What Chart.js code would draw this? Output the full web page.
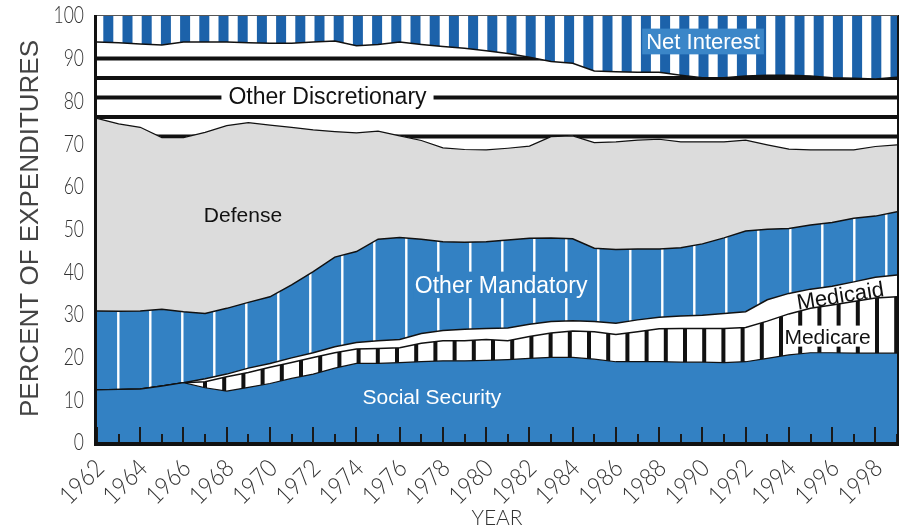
<!DOCTYPE html>
<html>
<head>
<meta charset="utf-8">
<script src="https://cdn.jsdelivr.net/npm/chart.js@4.4.1/dist/chart.umd.min.js"></script>
<style>
  html, body { margin: 0; padding: 0; background: #fff; }
  canvas { display: block; }
</style>
</head>
<body>
<canvas id="outlays" width="900" height="531"></canvas>
<script>
const YEARS = [1962, 1963, 1964, 1965, 1966, 1967, 1968, 1969, 1970, 1971,
               1972, 1973, 1974, 1975, 1976, 1977, 1978, 1979, 1980, 1981,
               1982, 1983, 1984, 1985, 1986, 1987, 1988, 1989, 1990, 1991,
               1992, 1993, 1994, 1995, 1996, 1997, 1998, 1999];

// percent of total outlays, bottom layer first
const SOCIAL_SECURITY = [12.2, 12.3, 12.4, 13.1, 13.9, 12.7, 11.9, 12.8, 13.7, 14.9,
                         15.9, 17.3, 18.4, 18.4, 18.6, 18.8, 19.0, 19.0, 19.1, 19.3,
                         19.6, 19.8, 19.8, 19.4, 18.8, 18.8, 18.8, 18.7, 18.7, 18.6,
                         18.8, 19.6, 20.4, 20.9, 20.9, 20.8, 20.8, 20.8];
const MEDICARE = [0, 0, 0, 0, 0, 1.4, 3.4, 3.5, 3.8, 3.7,
                  3.9, 3.6, 3.4, 3.5, 3.5, 4.3, 4.7, 4.7, 4.9, 4.4,
                  5.1, 5.7, 6.2, 6.4, 6.4, 7.0, 7.7, 7.9, 7.9, 8.0,
                  8.0, 8.7, 9.6, 10.4, 11.2, 12.1, 12.9, 13.2];
const MEDICAID = [0, 0, 0, 0, 0, 0.7, 0.6, 1.0, 0.9, 1.1,
                  1.1, 1.4, 1.5, 1.8, 1.9, 2.3, 2.4, 2.7, 2.6, 3.0,
                  2.9, 2.7, 2.4, 2.4, 2.6, 2.8, 2.7, 2.9, 3.1, 3.5,
                  3.7, 5.0, 4.8, 4.5, 4.4, 4.6, 4.9, 5.1];
const OTHER_MANDATORY = [18.5, 18.3, 18.3, 18.0, 16.6, 15.3, 15.4, 15.4, 15.6, 17.1,
                         19.0, 21.0, 21.3, 23.8, 23.9, 22.1, 20.8, 20.4, 20.3, 20.6,
                         20.1, 19.6, 19.2, 17.2, 17.3, 16.6, 16.0, 16.0, 16.7, 17.7,
                         18.9, 16.5, 15.2, 15.0, 14.9, 14.9, 14.3, 14.8];
const DEFENSE = [45.1, 43.9, 43.0, 40.2, 40.8, 42.4, 42.8, 42.1, 40.2, 36.9,
                 33.2, 29.4, 27.8, 25.3, 23.8, 23.1, 22.0, 21.7, 21.5, 21.5,
                 21.6, 23.7, 24.1, 24.7, 25.2, 25.5, 25.7, 24.8, 23.9, 22.5,
                 21.3, 19.8, 18.6, 17.6, 17.0, 16.0, 16.3, 15.7];
const OTHER_DISCRETIONARY = [17.9, 19.0, 19.5, 21.7, 22.4, 21.2, 19.6, 18.7, 19.2, 19.7,
                             20.6, 21.2, 20.4, 20.3, 22.0, 22.5, 23.7, 23.7, 23.2, 22.2,
                             20.8, 17.6, 17.0, 16.8, 16.4, 15.9, 15.7, 15.6, 15.0, 15.0,
                             15.0, 16.3, 17.3, 17.3, 16.9, 16.8, 15.8, 15.8];
const NET_INTEREST = [6.3, 6.5, 6.8, 7.0, 6.3, 6.3, 6.3, 6.5, 6.6, 6.6,
                      6.3, 6.1, 7.2, 6.9, 6.3, 6.9, 7.4, 7.8, 8.4, 9.0,
                      9.9, 10.9, 11.3, 13.1, 13.3, 13.4, 13.4, 14.1, 14.7, 14.7,
                      14.3, 14.1, 14.1, 14.3, 14.7, 14.8, 15.0, 14.6];

const Y_TICKS = [0, 10, 20, 30, 40, 50, 60, 70, 80, 90, 100];

const LIGHT = "Lato, 'Liberation Sans', sans-serif";
const WIDE = "'Liberation Sans', Arial, sans-serif";
const BLUE = '#3381c3';
const INK = '#111';
const AXIS_TEXT = '#333';

function makePattern(w, h, bg, paint) {
    const c = document.createElement('canvas');
    c.width = w;
    c.height = h;
    const g = c.getContext('2d');
    g.fillStyle = bg;
    g.fillRect(0, 0, w, h);
    paint(g);
    return g.createPattern(c, 'repeat');
}

// tiles line up with the canvas origin
const netInterestFill = makePattern(96, 4, '#fff', g => {
    g.fillStyle = '#1c62aa';
    [7.3, 26.5, 45.7, 64.9, 84.1].forEach(x0 => g.fillRect(x0, 0, 10, 4));
});
const otherDiscFill = makePattern(8, 39, '#fff', g => {
    g.fillStyle = INK;
    g.fillRect(0, 0, 8, 2);
    g.fillRect(0, 37, 8, 2);
    g.fillRect(0, 17.5, 8, 4);
});
const otherMandFill = makePattern(96, 4, BLUE, g => {
    g.fillStyle = '#fff';
    [22.3, 54.3, 86.3].forEach(c => g.fillRect(c - 1.2, 0, 2.4, 4));
});
const medicareFill = makePattern(96, 4, '#fff', g => {
    g.fillStyle = INK;
    [13, 32.2, 51.4, 70.6, 89.8].forEach(c => g.fillRect(c - 2, 0, 4, 4));
});

function layer(label, data, fill, bg, borderWidth) {
    return {
        label: label,
        data: data,
        fill: fill,
        backgroundColor: bg,
        borderColor: INK,
        borderWidth: borderWidth,
        pointRadius: 0,
        tension: 0
    };
}

// text placed at (category index, percent)
const AREA_LABELS = [
    { text: 'Net Interest', i: 28.03, v: 93.8, size: 22, color: '#fff', bg: '#3b86c8', padX: 4, padY: 5 },
    { text: 'Other Discretionary', i: 10.66, v: 81.1, size: 23, color: INK, bg: '#fff', padX: 7, padY: 5 },
    { text: 'Defense', i: 6.75, v: 53.4, size: 21, color: INK },
    { text: 'Other Mandatory', i: 18.69, v: 36.8, size: 23, color: '#fff', bg: BLUE, padX: 1, padY: 5 },
    { text: 'Medicaid', i: 34.37, v: 34.4, size: 22, color: INK, rot: -9 },
    { text: 'Medicare', i: 33.79, v: 24.8, size: 21, color: INK, bg: '#fff', padX: 1, padY: 3 },
    { text: 'Social Security', i: 15.49, v: 10.7, size: 21, color: '#fff' }
];

function noPadding(s) {
    s.paddingLeft = 0;
    s.paddingRight = 0;
    s.paddingTop = 0;
    s.paddingBottom = 0;
}

const decorPlugin = {
    id: 'decor',
    afterDatasetsDraw(chart) {
        const { ctx, chartArea: a, scales: { x, y } } = chart;
        ctx.save();

        AREA_LABELS.forEach(l => {
            const cx = x.getPixelForValue(l.i);
            const cy = y.getPixelForValue(l.v);
            ctx.save();
            ctx.translate(cx, cy);
            if (l.rot) ctx.rotate(l.rot * Math.PI / 180);
            ctx.font = l.size + 'px ' + WIDE;
            const w = ctx.measureText(l.text).width;
            const cap = 0.716 * l.size;
            if (l.bg) {
                ctx.fillStyle = l.bg;
                ctx.fillRect(-w / 2 - l.padX, -cap / 2 - l.padY, w + 2 * l.padX, cap + 2 * l.padY);
            }
            ctx.fillStyle = l.color;
            ctx.textAlign = 'center';
            ctx.textBaseline = 'alphabetic';
            ctx.fillText(l.text, 0, cap / 2);
            ctx.restore();
        });

        // year ticks point up into the plot
        ctx.strokeStyle = '#1a1a1a';
        ctx.lineWidth = 2;
        YEARS.forEach((yr, i) => {
            const px = Math.round(x.getPixelForValue(i));
            const len = yr % 2 === 0 ? 15 : 8;
            ctx.beginPath();
            ctx.moveTo(px, a.bottom);
            ctx.lineTo(px, a.bottom - len);
            ctx.stroke();
        });

        // frame
        ctx.strokeStyle = INK;
        ctx.lineWidth = 3;
        ctx.beginPath();
        ctx.moveTo(a.left - 1.5, a.top);
        ctx.lineTo(a.left - 1.5, a.bottom + 4);
        ctx.stroke();
        ctx.lineWidth = 4;
        ctx.beginPath();
        ctx.moveTo(a.left - 3, a.bottom + 2);
        ctx.lineTo(a.right + 2, a.bottom + 2);
        ctx.stroke();
        ctx.lineWidth = 2;
        ctx.beginPath();
        ctx.moveTo(a.right + 1, a.top);
        ctx.lineTo(a.right + 1, a.bottom + 2);
        ctx.stroke();
        ctx.lineWidth = 1;
        ctx.strokeStyle = '#555';
        ctx.beginPath();
        ctx.moveTo(a.left, a.top + 0.5);
        ctx.lineTo(a.right + 1, a.top + 0.5);
        ctx.stroke();

        // condensed light tick labels
        ctx.fillStyle = AXIS_TEXT;
        ctx.font = '300 23px ' + LIGHT;
        Y_TICKS.forEach(v => {
            ctx.save();
            ctx.translate(84, y.getPixelForValue(v) + 1);
            ctx.scale(0.76, 1);
            ctx.textAlign = 'right';
            ctx.textBaseline = 'middle';
            ctx.fillText(String(v), 0, 0);
            ctx.restore();
        });
        ctx.font = '300 25px ' + LIGHT;
        YEARS.forEach((yr, i) => {
            if (yr % 2 !== 0) return;
            ctx.save();
            ctx.translate(x.getPixelForValue(i) + 3, a.bottom + 22);
            ctx.rotate(-Math.PI / 4);
            ctx.scale(0.88, 1);
            ctx.textAlign = 'right';
            ctx.textBaseline = 'middle';
            ctx.fillText(String(yr), 0, 0);
            ctx.restore();
        });
        ctx.restore();
    }
};

new Chart(document.getElementById('outlays'), {
    type: 'line',
    data: {
        labels: YEARS,
        datasets: [
            layer('Social Security', SOCIAL_SECURITY, 'origin', BLUE, 1.2),
            layer('Medicare', MEDICARE, '-1', medicareFill, 1.5),
            layer('Medicaid', MEDICAID, '-1', '#fff', 1.5),
            layer('Other Mandatory', OTHER_MANDATORY, '-1', otherMandFill, 1.5),
            layer('Defense', DEFENSE, '-1', '#dcdcdc', 1.2),
            layer('Other Discretionary', OTHER_DISCRETIONARY, '-1', otherDiscFill, 1.5),
            layer('Net Interest', NET_INTEREST, '-1', netInterestFill, 0)
        ]
    },
    options: {
        responsive: false,
        animation: false,
        layout: { padding: { top: 15, right: 3, left: 0, bottom: 0 } },
        plugins: {
            legend: { display: false },
            tooltip: { enabled: false }
        },
        scales: {
            x: {
                type: 'category',
                offset: false,
                grid: { display: false, drawTicks: false },
                border: { display: false },
                ticks: { display: false },
                title: {
                    display: true,
                    text: 'YEAR',
                    color: AXIS_TEXT,
                    font: { family: LIGHT, size: 21, weight: 300 },
                    padding: { top: 0, bottom: 0 }
                },
                afterFit(s) { s.height = 89; noPadding(s); }
            },
            y: {
                stacked: true,
                min: 0,
                max: 100,
                grid: { display: false, drawTicks: false },
                border: { display: false },
                ticks: { display: false, stepSize: 10 },
                title: {
                    display: true,
                    text: 'PERCENT OF EXPENDITURES',
                    color: '#444',
                    font: { family: WIDE, size: 26 },
                    padding: { top: 15, bottom: 0 }
                },
                afterFit(s) { s.width = 97; noPadding(s); }
            }
        }
    },
    plugins: [decorPlugin]
});
</script>
</body>
</html>
